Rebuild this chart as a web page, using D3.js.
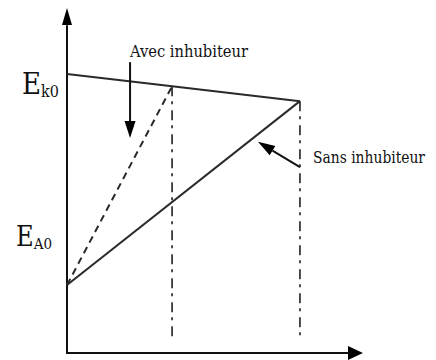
<!DOCTYPE html>
<html>
<head>
<meta charset="utf-8">
<script src="https://cdn.jsdelivr.net/npm/d3@7"></script>
<style>
  html, body { margin: 0; padding: 0; background: #fff; }
  svg { display: block; }
  .lbl { font-family: "DejaVu Serif Condensed", "DejaVu Serif", "Liberation Serif", serif; font-stretch: condensed; fill: #111; }
</style>
</head>
<body>
<svg id="chart" width="436" height="360"></svg>
<script>
// ---- data (conceptual units) ----
const xPositions = [0, 3.55, 7.87];            // origin, with inhibitor, without inhibitor
const ekLineValues = [8.09, 7.73, 7.30];       // E_k line at the three x positions
const avecLine = [[0, 1.97], [3.55, 7.73]];     // dashed: Avec inhibiteur
const sansLine = [[0, 1.97], [7.87, 7.30]];     // solid: Sans inhibiteur
const verticalBottom = 0.43;
const axisLabels = ["E", "E"];
const axisSubs = ["k0", "A0"];
const annotations = ["Avec inhubiteur", "Sans inhubiteur"];
const avecArrow = [[2.13, 8.43], [2.13, 6.23]];
const sansArrow = [[7.87, 5.39], [6.45, 6.12]];

// ---- scales ----
const x = d3.scaleLinear().domain([0, 10]).range([67, 363]);
const y = d3.scaleLinear().domain([0, 10]).range([353, 8]);

const svg = d3.select("#chart");
const ink = "#111";
const line = d3.line().x(d => x(d[0])).y(d => y(d[1]));

// axes
svg.append("line").attr("x1", x(0)).attr("x2", x(0)).attr("y1", y(0)).attr("y2", y(9.5))
  .attr("stroke", ink).attr("stroke-width", 2);
svg.append("line").attr("x1", x(0) - 1).attr("x2", x(9.5)).attr("y1", y(0)).attr("y2", y(0))
  .attr("stroke", ink).attr("stroke-width", 2);
svg.append("path")
  .attr("d", `M${x(0)},${y(10)} L${x(0) - 5},${y(10) + 17} L${x(0) + 5},${y(10) + 17} Z`)
  .attr("fill", "#000");
svg.append("path")
  .attr("d", `M${x(10)},${y(0)} L${x(10) - 15},${y(0) - 7} L${x(10) - 15},${y(0) + 7} Z`)
  .attr("fill", "#000");

// E_k line
svg.append("path")
  .datum(xPositions.map((xv, i) => [xv, ekLineValues[i]]))
  .attr("d", line).attr("fill", "none").attr("stroke", "#2a2a2a").attr("stroke-width", 2);

// sans inhibiteur (solid)
svg.append("path").datum(sansLine).attr("d", line)
  .attr("fill", "none").attr("stroke", "#2a2a2a").attr("stroke-width", 2);

// avec inhibiteur (dashed)
svg.append("path").datum(avecLine).attr("d", line)
  .attr("fill", "none").attr("stroke", "#2a2a2a").attr("stroke-width", 2)
  .attr("stroke-dasharray", "7,5");

// vertical dash-dot lines
[1, 2].forEach(i => {
  svg.append("line")
    .attr("x1", x(xPositions[i])).attr("x2", x(xPositions[i]))
    .attr("y1", y(ekLineValues[i])).attr("y2", y(verticalBottom))
    .attr("stroke", "#222").attr("stroke-width", 1.6)
    .attr("stroke-dasharray", "10,5,3,6");
});

// annotation arrows
function arrow(pts) {
  const [p0, p1] = pts;
  const x0 = x(p0[0]), y0 = y(p0[1]), x1 = x(p1[0]), y1 = y(p1[1]);
  const ang = Math.atan2(y1 - y0, x1 - x0);
  const L = 17, W = 5.5;
  const bx = x1 - L * Math.cos(ang), by = y1 - L * Math.sin(ang);
  svg.append("line").attr("x1", x0).attr("y1", y0).attr("x2", bx).attr("y2", by)
    .attr("stroke", "#111").attr("stroke-width", 2);
  const nx = -Math.sin(ang), ny = Math.cos(ang);
  svg.append("path")
    .attr("d", `M${x1},${y1} L${bx + nx * W},${by + ny * W} L${bx - nx * W},${by - ny * W} Z`)
    .attr("fill", "#000");
}
arrow(avecArrow);
arrow(sansArrow);

// text labels
function eLabel(idx, xE, baseline, sizeE, sizeS) {
  const t = svg.append("text").attr("class", "lbl").attr("x", xE).attr("y", baseline);
  t.append("tspan").attr("font-size", sizeE).text(axisLabels[idx]);
  t.append("tspan").attr("font-size", sizeS).attr("dy", 3).text(axisSubs[idx]);
}
eLabel(0, 22, 94, 29, 16);
eLabel(1, 16, 246, 27, 15);

svg.append("text").attr("class", "lbl").attr("x", 130).attr("y", 57)
  .attr("font-size", 17).attr("textLength", 118).attr("lengthAdjust", "spacingAndGlyphs")
  .text(annotations[0]);
svg.append("text").attr("class", "lbl").attr("x", 313).attr("y", 163)
  .attr("font-size", 16).attr("textLength", 112).attr("lengthAdjust", "spacingAndGlyphs")
  .text(annotations[1]);
</script>
</body>
</html>
